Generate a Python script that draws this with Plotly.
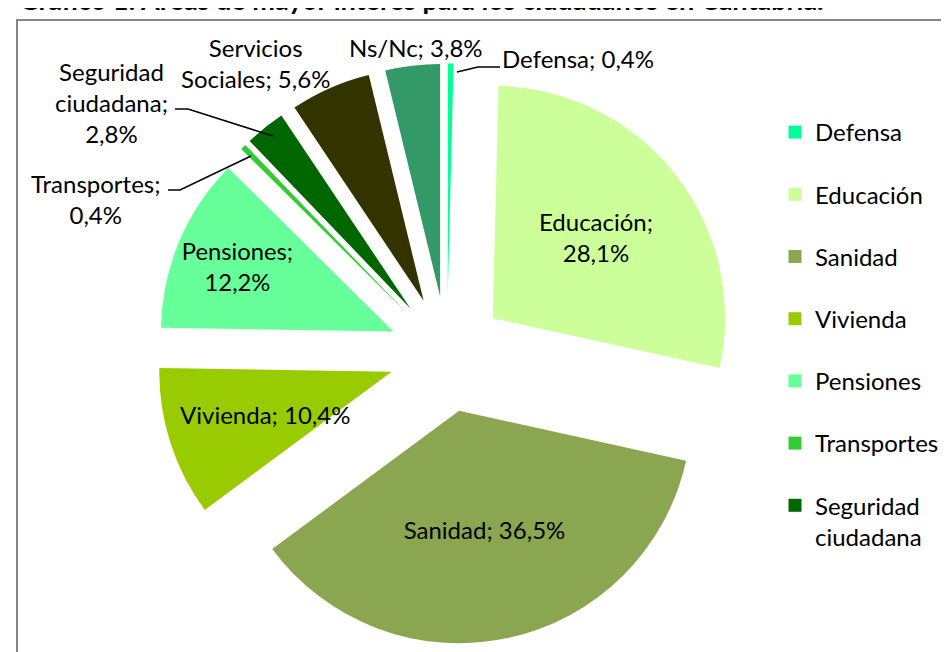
import plotly.graph_objects as go

W, H = 949, 652

labels = ["Defensa", "Educación", "Sanidad", "Vivienda", "Pensiones",
          "Transportes", "Seguridad ciudadana", "Servicios Sociales", "Ns/Nc"]
values = [0.4, 28.1, 36.5, 10.4, 12.2, 0.4, 2.8, 5.6, 3.8]
colors = ["#00FF99", "#CCFF99", "#8BA650", "#99CC00", "#66FF99",
          "#33CC33", "#006600", "#333300", "#339966"]
legend_shown = 7  # the Excel legend is cut after "Seguridad ciudadana"

FONT = "Lato"
FS = 24


def px(x):
    return x / W


def py(y):
    return 1 - y / H


def fmt(v):
    return f"{v:.1f}".replace(".", ",") + "%"


# slices whose label plotly draws inside, and how the label breaks
inside = {"Educación": "%{label};<br>%{value:.1f}%",
          "Sanidad": "%{label}; %{value:.1f}%",
          "Pensiones": "%{label};<br>%{value:.1f}%"}
templates = [inside.get(l, "") for l in labels]
positions = ["inside" if l in inside else "none" for l in labels]

cx, cy, half = 439, 346, 290.5

fig = go.Figure()
fig.add_trace(go.Pie(
    labels=labels,
    values=values,
    sort=False,
    direction="clockwise",
    rotation=0,
    pull=[0.25] * len(values),
    marker=dict(colors=colors),
    texttemplate=templates,
    textposition=positions,
    insidetextorientation="horizontal",
    textfont=dict(family=FONT, size=FS, color="black"),
    domain=dict(x=[px(cx - half), px(cx + half)],
                y=[py(cy + half), py(cy - half)]),
    showlegend=False,
    hoverinfo="label+value",
))

# legend as in the original (square swatches, wide spacing)
for i in range(legend_shown):
    fig.add_trace(go.Scatter(
        x=[None], y=[None], mode="markers",
        name=labels[i].replace(" ", "<br>"),
        legendgroup=labels[i],
        marker=dict(symbol="square", size=13, color=colors[i]),
    ))

# the other labels, placed like Excel did
outside = {
    "Ns/Nc": dict(x=408, y=40, text="{l}; {v}"),
    "Servicios Sociales": dict(x=248, y=55, text="Servicios<br>Sociales; {v}"),
    "Seguridad ciudadana": dict(x=103, y=95, text="Seguridad<br>ciudadana;<br>{v}"),
    "Transportes": dict(x=87, y=191, text="{l};<br>{v}"),
    "Defensa": dict(x=570, y=51, text="{l}; {v}"),
    "Vivienda": dict(x=257, y=406, text="{l}; {v}"),
}
annotations = []
for l, v in zip(labels, values):
    if l in outside:
        o = outside[l]
        annotations.append(dict(
            x=px(o["x"]), y=py(o["y"]), xref="paper", yref="paper",
            text=o["text"].format(l=l, v=fmt(v)), showarrow=False,
            xanchor="center", yanchor="middle", align="center",
            font=dict(family=FONT, size=FS, color="black"),
        ))

leaders = [
    [(167, 101), (180, 101), (265, 128)],
    [(160, 182), (172, 182), (243, 148)],
    [(492, 59), (470, 59), (449, 64)],
]
shapes = []
for pts in leaders:
    path = "M " + " L ".join(f"{px(x)},{py(y)}" for x, y in pts)
    shapes.append(dict(type="path", path=path, xref="paper", yref="paper",
                       line=dict(color="black", width=1.5)))

# chart frame (runs off the right and bottom of the picture)
shapes.append(dict(type="rect", xref="paper", yref="paper",
                   x0=px(9), x1=1.1, y0=-0.1, y1=py(12),
                   line=dict(color="#868686", width=2), layer="below"))

# title, cropped at the top like the original
annotations.append(dict(
    x=px(9), y=py(10), xref="paper", yref="paper",
    text="<b>Gráfico 1: Áreas de mayor interés para los ciudadanos en Cantabria.</b>",
    showarrow=False, xanchor="left", yanchor="bottom",
    font=dict(family=FONT, size=27, color="black"),
))

fig.update_layout(
    width=W, height=H,
    margin=dict(l=0, r=0, t=0, b=0),
    paper_bgcolor="white",
    plot_bgcolor="white",
    separators=",.",
    xaxis=dict(visible=False),
    yaxis=dict(visible=False),
    showlegend=True,
    legend=dict(x=px(767), y=py(102), xanchor="left", yanchor="top",
                font=dict(family=FONT, size=FS, color="black"),
                tracegroupgap=28, valign="top", bgcolor="rgba(0,0,0,0)"),
    annotations=annotations,
    shapes=shapes,
)

fig.write_html("out.html")
